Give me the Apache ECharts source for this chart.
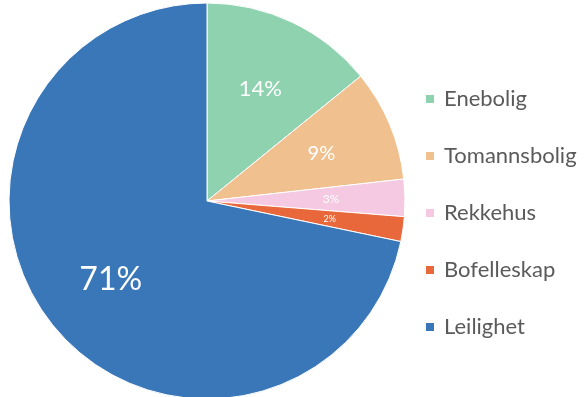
<!DOCTYPE html>
<html>
<head>
<meta charset="utf-8">
<script src="https://cdn.jsdelivr.net/npm/echarts@6/dist/echarts.min.js"></script>
<style>
  html, body { margin: 0; padding: 0; background: #fff; }
  #chart { width: 584px; height: 397px; }
</style>
</head>
<body>
<div id="chart"></div>
<script>
// Housing types and their share (percent)
const categories = ['Enebolig', 'Tomannsbolig', 'Rekkehus', 'Bofelleskap', 'Leilighet'];
const shares = [14, 9, 3, 2, 71];

// Styling per slice
const sliceColors = ['#8fd2b0', '#f0c08f', '#f5c9e1', '#e8683c', '#3a77b8'];
const labelFontSizes = [22, 20, 12, 9, 32];

const pieData = categories.map((name, i) => ({
  name: name,
  value: shares[i],
  itemStyle: { color: sliceColors[i] }
}));

// Transparent overlay used only to place the percentage labels a bit further out
const labelData = categories.map((name, i) => ({
  name: name,
  value: shares[i],
  itemStyle: { color: 'rgba(0,0,0,0)', borderWidth: 0 },
  label: { fontSize: labelFontSizes[i] }
}));

const chart = echarts.init(document.getElementById('chart'), null, { renderer: 'canvas' });
chart.setOption({
  animation: false,
  backgroundColor: '#ffffff',
  legend: {
    orient: 'vertical',
    left: 424,
    top: 88,
    padding: 0,
    itemWidth: 10,
    itemHeight: 10,
    itemGap: 35,
    icon: 'rect',
    data: categories,
    textStyle: {
      fontFamily: 'Lato',
      fontSize: 22,
      color: '#5a5a5a',
      lineHeight: 22,
      padding: [0, 0, 0, 4]
    }
  },
  series: [
    {
      type: 'pie',
      center: [207, 201],
      radius: [0, 198],
      startAngle: 90,
      clockwise: true,
      data: pieData,
      label: { show: false },
      labelLine: { show: false },
      itemStyle: { borderColor: '#ffffff', borderWidth: 1 },
      emphasis: { disabled: true }
    },
    {
      type: 'pie',
      center: [207, 201],
      radius: [0, 242],
      startAngle: 90,
      clockwise: true,
      silent: true,
      data: labelData,
      label: {
        show: true,
        position: 'inside',
        formatter: '{c}%',
        color: '#ffffff',
        fontFamily: 'Lato'
      },
      labelLine: { show: false },
      emphasis: { disabled: true }
    }
  ]
});
</script>
</body>
</html>
